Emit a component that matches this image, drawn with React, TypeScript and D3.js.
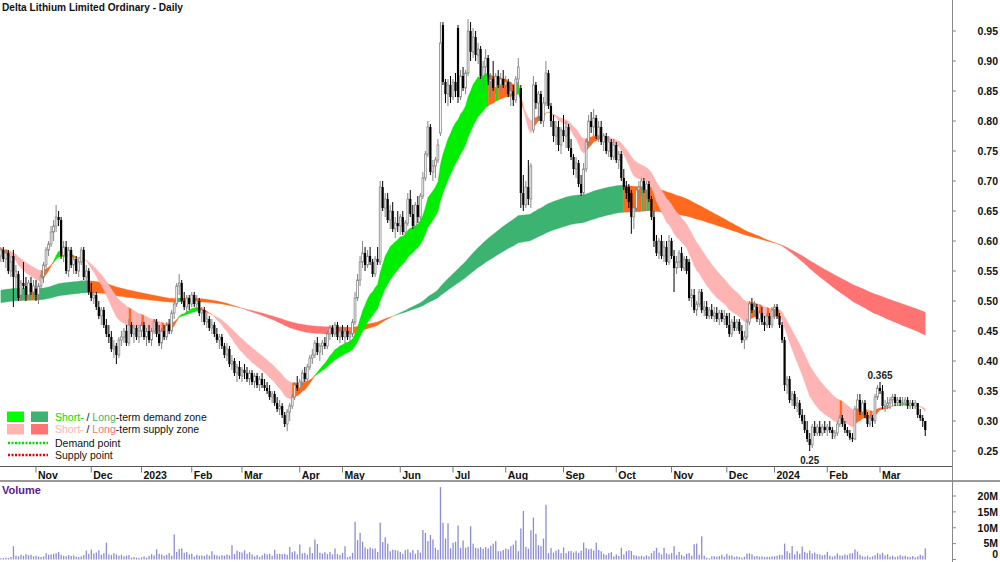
import React from 'react';
import * as d3 from 'd3';

const TITLE = 'Delta Lithium Limited Ordinary - Daily';
const FIRST_SESSION = '2022-10-12';
const HOLIDAYS = ['2022-12-26', '2022-12-27', '2023-01-02', '2023-01-26', '2023-04-07', '2023-04-10', '2023-04-25', '2023-06-12', '2023-12-25', '2023-12-26', '2024-01-01', '2024-01-26'];

// [open, high, low, close]
const CANDLES: number[][] = [
  [.575,.59,.565,.585],[.585,.59,.565,.57],[.57,.585,.555,.58],[.58,.585,.545,.55],[.55,.575,.54,.565],
  [.575,.585,.49,.54],[.54,.56,.52,.55],[.545,.55,.5,.505],[.51,.535,.5,.53],[.53,.565,.52,.525],
  [.525,.54,.5,.51],[.51,.535,.505,.53],[.53,.54,.51,.515],[.515,.535,.505,.525],[.52,.535,.5,.51],
  [.51,.53,.495,.525],[.525,.545,.515,.54],[.54,.565,.53,.56],[.56,.59,.555,.585],[.585,.6,.575,.595],
  [.595,.625,.59,.615],[.615,.635,.6,.625],[.625,.66,.615,.64],[.64,.65,.625,.635],[.635,.64,.57,.575],
  [.575,.6,.565,.59],[.59,.6,.545,.55],[.55,.59,.54,.585],[.585,.59,.555,.56],[.56,.575,.545,.57],
  [.57,.575,.545,.55],[.55,.57,.54,.565],[.565,.59,.56,.585],[.585,.59,.535,.54],[.54,.56,.52,.55],
  [.55,.555,.51,.515],[.515,.53,.5,.505],[.505,.52,.495,.51],[.51,.515,.485,.49],[.49,.5,.47,.475],
  [.475,.49,.46,.485],[.485,.49,.455,.46],[.46,.47,.44,.445],[.445,.46,.43,.44],[.44,.45,.415,.42],
  [.42,.435,.405,.425],[.425,.43,.395,.41],[.41,.44,.405,.435],[.435,.45,.425,.44],[.44,.455,.43,.45],
  [.45,.46,.425,.43],[.43,.47,.425,.46],[.46,.465,.44,.445],[.445,.46,.43,.455],[.455,.46,.435,.44],
  [.44,.46,.43,.45],[.45,.465,.44,.46],[.46,.465,.435,.44],[.44,.455,.425,.45],[.45,.46,.43,.435],
  [.435,.455,.425,.45],[.45,.47,.445,.465],[.465,.47,.44,.445],[.445,.46,.425,.43],[.43,.455,.42,.45],
  [.45,.46,.435,.44],[.44,.465,.435,.46],[.46,.47,.445,.45],[.45,.485,.445,.48],[.48,.5,.47,.495],
  [.495,.53,.49,.525],[.525,.545,.51,.53],[.53,.535,.495,.5],[.5,.515,.485,.49],[.49,.51,.48,.505],
  [.505,.51,.485,.495],[.495,.515,.49,.51],[.51,.515,.49,.495],[.495,.51,.485,.5],[.5,.505,.475,.48],
  [.48,.49,.465,.485],[.485,.49,.46,.465],[.465,.48,.455,.47],[.47,.475,.45,.455],[.455,.47,.445,.46],
  [.46,.465,.44,.445],[.445,.455,.43,.435],[.435,.445,.42,.44],[.44,.445,.42,.425],[.425,.43,.405,.41],
  [.41,.43,.4,.42],[.42,.425,.39,.395],[.395,.41,.385,.4],[.4,.405,.375,.38],[.38,.395,.365,.39],
  [.39,.4,.37,.375],[.375,.39,.365,.385],[.385,.395,.37,.38],[.38,.39,.365,.37],[.37,.385,.36,.38],
  [.38,.385,.36,.365],[.365,.38,.355,.375],[.375,.38,.355,.36],[.36,.375,.35,.37],[.37,.38,.355,.36],
  [.36,.37,.35,.355],[.355,.365,.345,.35],[.35,.36,.335,.34],[.34,.35,.33,.345],[.345,.35,.325,.33],
  [.33,.34,.315,.32],[.32,.335,.31,.325],[.325,.33,.305,.31],[.31,.315,.29,.295],[.295,.32,.283,.315],
  [.315,.33,.3,.325],[.325,.345,.32,.34],[.34,.365,.335,.36],[.36,.375,.35,.355],[.355,.37,.345,.365],
  [.365,.385,.36,.38],[.38,.39,.365,.37],[.37,.395,.365,.39],[.39,.41,.385,.405],[.405,.42,.395,.41],
  [.41,.435,.405,.43],[.43,.44,.41,.415],[.415,.43,.4,.425],[.425,.435,.41,.43],[.43,.44,.42,.425],
  [.425,.45,.42,.445],[.445,.46,.435,.455],[.455,.46,.44,.445],[.445,.465,.44,.46],[.46,.465,.435,.44],
  [.44,.455,.43,.45],[.45,.46,.435,.44],[.44,.455,.43,.45],[.45,.46,.435,.44],[.44,.45,.425,.445],
  [.445,.47,.44,.465],[.465,.515,.46,.505],[.505,.545,.5,.535],[.535,.575,.525,.565],[.565,.6,.555,.58],
  [.58,.59,.55,.56],[.56,.585,.555,.575],[.575,.59,.56,.565],[.565,.57,.54,.545],[.545,.575,.54,.57],
  [.57,.59,.56,.565],[.565,.7,.56,.69],[.69,.7,.65,.655],[.655,.68,.64,.67],[.67,.68,.63,.635],
  [.635,.66,.62,.65],[.65,.665,.615,.62],[.62,.64,.605,.63],[.63,.65,.615,.625],[.625,.645,.61,.64],
  [.64,.65,.61,.615],[.615,.635,.605,.63],[.63,.68,.625,.67],[.67,.685,.64,.645],[.645,.66,.62,.625],
  [.625,.665,.62,.66],[.66,.675,.63,.64],[.64,.68,.635,.675],[.675,.715,.67,.705],[.705,.75,.7,.745],
  [.745,.8,.74,.79],[.79,.795,.71,.715],[.715,.735,.7,.725],[.725,.74,.705,.735],[.735,.77,.73,.76],
  [.78,.965,.775,.93],[.96,.965,.86,.865],[.865,.87,.83,.845],[.845,.87,.825,.86],[.86,.875,.83,.84],
  [.84,.87,.835,.865],[.865,.88,.84,.85],[.955,.96,.83,.84],[.84,.885,.835,.875],[.875,.89,.85,.855],
  [.855,.885,.845,.88],[.88,.97,.875,.95],[.95,.965,.9,.915],[.915,.955,.905,.94],[.94,.95,.9,.91],
  [.91,.93,.895,.92],[.92,.925,.87,.875],[.875,.9,.85,.89],[.89,.92,.875,.905],[.905,.91,.86,.865],
  [.865,.88,.84,.87],[.87,.9,.85,.855],[.855,.88,.845,.875],[.875,.885,.855,.86],[.86,.88,.85,.87],
  [.87,.885,.855,.86],[.86,.875,.845,.865],[.865,.87,.84,.845],[.845,.865,.825,.85],[.85,.86,.825,.835],
  [.835,.875,.83,.87],[.87,.905,.86,.89],[.855,.86,.655,.68],[.68,.71,.65,.66],[.66,.7,.655,.69],
  [.69,.735,.66,.67],[.67,.73,.655,.725],[.785,.875,.78,.86],[.86,.865,.82,.83],[.83,.85,.8,.845],
  [.845,.85,.795,.8],[.8,.84,.79,.83],[.83,.9,.825,.88],[.88,.885,.82,.825],[.825,.83,.79,.8],
  [.8,.81,.765,.775],[.775,.8,.76,.79],[.79,.8,.75,.76],[.76,.79,.745,.785],[.785,.81,.765,.775],
  [.775,.8,.755,.79],[.79,.795,.75,.755],[.755,.77,.735,.74],[.74,.745,.71,.72],[.72,.74,.705,.73],
  [.73,.735,.69,.695],[.695,.71,.675,.68],[.68,.73,.675,.72],[.72,.77,.715,.765],[.765,.81,.76,.8],
  [.8,.815,.78,.79],[.79,.82,.775,.805],[.805,.81,.77,.775],[.775,.8,.765,.79],[.79,.8,.76,.765],
  [.765,.78,.75,.775],[.775,.78,.745,.75],[.75,.775,.74,.765],[.765,.77,.735,.74],[.74,.77,.735,.76],
  [.76,.765,.73,.735],[.735,.75,.72,.745],[.745,.75,.7,.705],[.705,.72,.685,.69],[.69,.7,.67,.68],
  [.69,.695,.655,.665],[.68,.685,.612,.64],[.64,.665,.62,.655],[.655,.69,.65,.685],[.685,.7,.67,.69],
  [.69,.705,.675,.7],[.7,.705,.68,.685],[.685,.7,.67,.695],[.695,.7,.665,.67],[.67,.675,.635,.64],
  [.64,.65,.59,.6],[.6,.61,.575,.58],[.58,.605,.57,.6],[.6,.61,.57,.575],[.575,.6,.565,.59],
  [.59,.6,.56,.565],[.565,.61,.56,.6],[.6,.605,.57,.575],[.575,.585,.515,.555],[.555,.575,.545,.565],
  [.565,.585,.555,.58],[.58,.59,.55,.555],[.555,.575,.55,.57],[.57,.575,.545,.55],[.565,.57,.5,.505],
  [.505,.52,.49,.51],[.51,.52,.48,.485],[.485,.5,.475,.495],[.495,.52,.49,.515],[.515,.52,.48,.485],
  [.485,.5,.475,.49],[.49,.5,.47,.475],[.475,.49,.47,.485],[.485,.495,.47,.475],[.475,.49,.465,.48],
  [.48,.49,.465,.47],[.47,.485,.46,.48],[.48,.485,.465,.47],[.47,.485,.46,.475],[.475,.48,.455,.46],
  [.46,.48,.44,.445],[.445,.47,.44,.465],[.465,.475,.45,.455],[.455,.47,.45,.465],[.465,.47,.445,.45],
  [.45,.46,.43,.435],[.435,.45,.42,.44],[.44,.47,.435,.465],[.465,.5,.46,.495],[.495,.505,.48,.485],
  [.485,.5,.475,.49],[.49,.495,.465,.47],[.47,.485,.46,.48],[.48,.49,.46,.465],[.465,.475,.45,.46],
  [.46,.48,.455,.475],[.475,.48,.455,.46],[.46,.49,.455,.485],[.485,.495,.47,.49],[.49,.495,.47,.475],
  [.475,.48,.455,.46],[.46,.465,.43,.435],[.435,.44,.35,.36],[.36,.375,.345,.37],[.37,.375,.33,.335],
  [.335,.35,.325,.345],[.345,.35,.32,.325],[.325,.34,.315,.33],[.33,.335,.305,.31],[.31,.32,.295,.3],
  [.3,.31,.28,.285],[.285,.3,.265,.27],[.27,.28,.25,.26],[.26,.295,.255,.29],[.29,.3,.275,.28],
  [.28,.295,.275,.29],[.29,.3,.275,.28],[.28,.295,.275,.29],[.29,.3,.28,.285],[.285,.295,.275,.29],
  [.29,.3,.28,.285],[.285,.29,.27,.28],[.275,.285,.27,.28],[.28,.3,.275,.295],[.295,.31,.29,.305],
  [.305,.31,.29,.295],[.295,.3,.28,.285],[.285,.29,.275,.28],[.28,.285,.268,.272],[.272,.28,.265,.27],
  [.27,.325,.268,.32],[.32,.345,.315,.335],[.335,.345,.31,.315],[.315,.335,.31,.33],[.33,.335,.305,.31],
  [.31,.315,.29,.295],[.295,.31,.29,.305],[.305,.31,.29,.3],[.3,.345,.295,.34],[.34,.36,.335,.355],
  [.355,.365,.345,.35],[.35,.36,.32,.325],[.325,.335,.315,.325],[.325,.34,.32,.33],[.33,.34,.32,.335],
  [.335,.345,.325,.34],[.34,.345,.325,.33],[.33,.34,.325,.335],[.335,.34,.325,.33],[.33,.34,.325,.33],
  [.33,.34,.325,.335],[.335,.34,.32,.325],[.325,.335,.32,.33],[.33,.335,.32,.325],[.325,.335,.32,.33],
  [.33,.33,.305,.31],[.31,.32,.3,.305],[.305,.31,.29,.3],[.3,.3,.275,.285]
];

// daily volume, millions of shares
const VOLUME_M: number[] = [
  0.4,0.5,0.6,0.5,0.8,4.2,1.2,1.0,1.5,1.2,1.7,1.3,1.5,1.0,
  1.2,0.9,0.8,1.0,2.0,1.5,1.6,1.8,2.0,2.4,1.5,1.2,1.0,1.4,
  1.1,1.3,0.9,0.8,1.0,1.4,2.8,1.8,3.1,1.9,2.2,2.9,1.5,2.0,
  5.3,1.6,1.4,2.0,1.6,1.2,1.5,1.0,1.2,1.4,0.6,0.8,0.6,0.5,
  0.7,1.0,0.6,1.2,1.7,1.3,3.2,1.8,1.6,1.2,1.5,2.0,1.2,7.9,
  2.4,3.3,3.5,2.1,2.4,1.6,1.8,0.9,1.5,1.2,1.3,1.1,1.6,1.2,
  2.6,1.5,1.3,1.0,1.4,1.2,1.6,1.3,4.5,1.7,2.8,2.4,2.2,2.9,
  1.8,2.3,1.6,1.0,1.4,0.8,1.3,1.9,1.6,1.8,1.2,3.1,1.7,1.8,
  1.7,1.8,1.5,3.9,2.3,2.6,1.6,4.7,1.9,2.1,1.5,3.9,2.0,6.3,
  4.9,2.2,1.9,2.3,1.7,2.4,1.6,3.5,1.7,1.4,2.1,4.2,0.7,1.0,
  2.1,11.9,6.1,8.4,5.6,3.8,3.3,3.8,3.4,3.5,2.4,11.6,5.5,7.0,
  5.0,2.6,3.1,3.0,2.8,2.4,1.8,3.0,3.2,2.2,3.0,1.8,3.0,2.2,
  9.3,8.4,5.8,7.7,6.3,3.7,3.0,22.8,11.6,6.6,11.4,3.5,5.3,5.6,
  10.7,3.7,6.0,3.7,4.0,10.5,5.0,3.7,3.5,3.9,3.4,3.9,3.5,4.3,
  5.0,5.8,2.6,2.6,3.0,3.5,3.2,4.2,4.7,6.0,2.6,9.8,15.3,4.0,
  3.4,9.2,13.2,8.1,4.5,4.2,6.6,17.2,2.0,3.6,2.2,2.8,3.2,2.0,
  3.8,2.0,2.6,2.7,2.2,2.6,2.1,2.8,5.3,3.6,3.2,3.4,2.8,5.3,
  3.0,2.6,1.8,1.4,2.0,2.3,1.0,1.6,1.1,3.7,1.6,2.6,2.9,2.7,
  1.4,1.2,1.0,1.2,0.9,1.3,1.0,2.0,2.7,3.7,2.2,1.6,3.7,1.9,
  1.6,2.0,4.2,1.4,2.4,1.4,1.0,1.8,2.0,1.2,4.8,5.0,1.5,7.3,
  1.2,0.6,0.4,1.0,1.0,0.9,1.1,1.5,0.9,1.8,1.2,1.3,0.8,1.0,
  0.8,0.6,0.9,1.9,1.9,1.6,1.0,1.1,0.9,1.0,0.8,0.9,0.8,1.0,
  1.0,1.2,1.5,1.4,5.0,2.6,2.0,4.2,1.6,2.6,1.8,4.1,2.4,2.0,
  2.8,1.9,2.2,1.7,1.6,1.3,1.5,2.4,1.2,0.9,1.2,1.9,1.3,1.2,
  1.6,1.4,1.9,2.0,3.2,2.5,1.5,1.0,0.9,1.2,0.7,1.0,1.4,2.0,
  1.6,2.1,1.3,1.6,0.9,1.2,0.8,1.0,1.4,1.0,1.2,0.9,0.8,1.1,
  0.7,1.0,1.5,1.2,3.5
];

const PRICE_TICKS = [0.25, 0.3, 0.35, 0.4, 0.45, 0.5, 0.55, 0.6, 0.65, 0.7, 0.75, 0.8, 0.85, 0.9, 0.95];
const VOLUME_TICKS = [0, 5, 10, 15, 20];
const VOLUME_TICK_LABELS = ['0', '5M', '10M', '15M', '20M'];
const MONTH_NAMES = ['Jan', 'Feb', 'Mar', 'Apr', 'May', 'Jun', 'Jul', 'Aug', 'Sep', 'Oct', 'Nov', 'Dec'];

// EMA periods of the short- and long-term zones, and their values at the first bar
const SHORT_PERIODS = [15, 30];
const LONG_PERIODS = [150, 225];
const SHORT_START = [0.58, 0.588];
const LONG_START = [0.518, 0.497];

const FONT = '"Liberation Sans", Arial, Helvetica, sans-serif';

const COLORS = {
  shortDemand: '#00ee00',
  longDemand: '#3cb371',
  shortSupply: '#ffb4b4',
  longSupply: '#ff7373',
  neutral: '#ff6a1f',
};

function tradingDays(start: string, count: number): Date[] {
  const hol = new Set(HOLIDAYS);
  const out: Date[] = [];
  let t = Date.parse(start + 'T00:00:00Z');
  while (out.length < count) {
    const d = new Date(t);
    const dow = d.getUTCDay();
    const key = d.toISOString().slice(0, 10);
    if (dow !== 0 && dow !== 6 && !hol.has(key)) out.push(d);
    t += 86400000;
  }
  return out;
}

function ema(values: number[], period: number, seed: number): number[] {
  const a = 2 / (period + 1);
  let e = seed;
  return values.map((v, i) => {
    if (i > 0) e = e + a * (v - e);
    return e;
  });
}

type Run = { state: string; start: number; end: number };

function zoneRuns(fast: number[], slow: number[], closes: number[]): Run[] {
  const states = fast.map((f, i) => {
    const rising = i === 0 ? closes[0] >= f : f >= fast[i - 1];
    const above = f >= slow[i];
    return above ? (rising ? 'demand' : 'neutral') : rising ? 'neutral' : 'supply';
  });
  const runs: Run[] = [];
  states.forEach((s, i) => {
    const last = runs[runs.length - 1];
    if (last && last.state === s) last.end = i;
    else runs.push({ state: s, start: i, end: i });
  });
  return runs;
}

export default function App() {
  const W = 1000;
  const H = 562;
  const n = CANDLES.length;
  const dates = tradingDays(FIRST_SESSION, n);
  const closes = CANDLES.map((c) => c[3]);

  const x = d3.scaleLinear().domain([0, n - 1]).range([0.83, 0.83 + 2.512 * (n - 1)]);
  const yP = d3.scaleLinear().domain([0.25, 0.95]).range([451, 31]);
  const yV = d3.scaleLinear().domain([0, 20]).range([559.5, 496]);

  const axisX = 952.5;
  const panelBottom = 466.5;

  const sFast = ema(closes, SHORT_PERIODS[0], SHORT_START[0]);
  const sSlow = ema(closes, SHORT_PERIODS[1], SHORT_START[1]);
  const lFast = ema(closes, LONG_PERIODS[0], LONG_START[0]);
  const lSlow = ema(closes, LONG_PERIODS[1], LONG_START[1]);

  const bandPaths = (fast: number[], slow: number[], palette: Record<string, string>) => {
    const area = d3
      .area<number>()
      .x((i) => x(i))
      .y0((i) => yP(Math.min(fast[i], slow[i])))
      .y1((i) => yP(Math.max(fast[i], slow[i])));
    return zoneRuns(fast, slow, closes).map((r) => {
      const idx = d3.range(r.start, Math.min(r.end + 1, n - 1) + 1);
      return { d: area(idx) || '', fill: palette[r.state], key: r.start };
    });
  };

  const longBands = bandPaths(lFast, lSlow, { demand: COLORS.longDemand, supply: COLORS.longSupply, neutral: COLORS.neutral });
  const shortBands = bandPaths(sFast, sSlow, { demand: COLORS.shortDemand, supply: COLORS.shortSupply, neutral: COLORS.neutral });

  const monthTicks: { i: number; label: string }[] = [];
  for (let i = 1; i < n; i++) {
    if (dates[i].getUTCMonth() !== dates[i - 1].getUTCMonth()) {
      const m = dates[i].getUTCMonth();
      monthTicks.push({ i, label: m === 0 ? String(dates[i].getUTCFullYear()) : MONTH_NAMES[m] });
    }
  }

  // recent low and the high after it
  const recentFrom = n - 80;
  let lowIdx = recentFrom;
  for (let i = recentFrom; i < n; i++) if (CANDLES[i][2] < CANDLES[lowIdx][2]) lowIdx = i;
  let highIdx = lowIdx;
  for (let i = lowIdx; i < n; i++) if (CANDLES[i][1] > CANDLES[highIdx][1]) highIdx = i;
  const fmt = (v: number) => String(+v.toFixed(3));

  return (
    <svg width={W} height={H} style={{ position: 'absolute', left: 0, top: 0, display: 'block', background: '#fff' }} fontFamily={FONT}>
      <defs>
        <clipPath id="pricePanel">
          <rect x={0} y={0} width={axisX} height={panelBottom} />
        </clipPath>
      </defs>
      <rect x={0} y={0} width={W} height={H} fill="#fff" />

      <g clipPath="url(#pricePanel)">
        {longBands.map((b) => (
          <path key={'l' + b.key} d={b.d} fill={b.fill} stroke={b.fill} strokeWidth={0.3} />
        ))}
        {shortBands.map((b) => (
          <path key={'s' + b.key} d={b.d} fill={b.fill} stroke={b.fill} strokeWidth={0.3} />
        ))}
        {CANDLES.map(([o, h, l, c], i) => {
          const cx = x(i);
          const up = c >= o;
          const top = yP(Math.max(o, c));
          const bot = yP(Math.min(o, c));
          const col = up ? '#858585' : '#000';
          return (
            <g key={i}>
              <line x1={cx} x2={cx} y1={yP(h)} y2={yP(l)} stroke={col} strokeWidth={1} />
              {up ? (
                <rect x={cx - 0.9} y={top} width={1.8} height={Math.max(0.8, bot - top)} fill="#fff" stroke={col} strokeWidth={0.8} />
              ) : (
                <rect x={cx - 1.1} y={top} width={2.2} height={Math.max(1, bot - top)} fill="#000" />
              )}
            </g>
          );
        })}
      </g>

      {/* annotations */}
      <text x={x(highIdx)} y={yP(CANDLES[highIdx][1]) - 3} textAnchor="middle" fontSize={11} fontWeight="bold" fill="#222" textLength={25} lengthAdjust="spacingAndGlyphs">
        {fmt(CANDLES[highIdx][1])}
      </text>
      <text x={x(lowIdx)} y={yP(CANDLES[lowIdx][2]) + 12.5} textAnchor="middle" fontSize={11} fontWeight="bold" fill="#222" textLength={19} lengthAdjust="spacingAndGlyphs">
        {fmt(CANDLES[lowIdx][2])}
      </text>

      {/* title */}
      <text x={2} y={11} fontSize={11} fontWeight="bold" fill="#111" textLength={181} lengthAdjust="spacingAndGlyphs">
        {TITLE}
      </text>

      {/* legend */}
      <g fontSize={10.5}>
        <rect x={7} y={411.5} width={17} height={10.5} fill="#00ff00" />
        <rect x={31} y={411.5} width={17} height={10.5} fill={COLORS.longDemand} />
        <text x={55} y={420.5} fill="#111">
          <tspan fill="#00dd00">Short-</tspan>
          <tspan> / </tspan>
          <tspan fill={COLORS.longDemand}>Long</tspan>
          <tspan>-term demand zone</tspan>
        </text>
        <rect x={7} y={424} width={17} height={10.5} fill={COLORS.shortSupply} />
        <rect x={31} y={424} width={17} height={10.5} fill={COLORS.longSupply} />
        <text x={55} y={433} fill="#111">
          <tspan fill={COLORS.shortSupply}>Short-</tspan>
          <tspan> / </tspan>
          <tspan fill={COLORS.longSupply}>Long</tspan>
          <tspan>-term supply zone</tspan>
        </text>
        <line x1={8} x2={48} y1={443} y2={443} stroke="#00dd00" strokeWidth={2.5} strokeDasharray="2,1.5" />
        <text x={55} y={447} fill="#111">Demand point</text>
        <line x1={8} x2={48} y1={455} y2={455} stroke="#ee0000" strokeWidth={2.5} strokeDasharray="2,1.5" />
        <text x={55} y={459} fill="#111">Supply point</text>
      </g>

      {/* x axis */}
      <line x1={0} x2={axisX} y1={panelBottom} y2={panelBottom} stroke="#555" strokeWidth={1} />
      {monthTicks.map((t) => (
        <g key={t.i}>
          <line x1={x(t.i)} x2={x(t.i)} y1={panelBottom} y2={472.5} stroke="#777" strokeWidth={1} />
          <text x={x(t.i) + 2} y={478.5} fontSize={10.5} fontWeight="bold" fill="#111">
            {t.label}
          </text>
        </g>
      ))}
      <line x1={0} x2={W} y1={481} y2={481} stroke="#999" strokeWidth={2} />

      {/* right axis */}
      <line x1={axisX} x2={axisX} y1={0} y2={H} stroke="#888" strokeWidth={1} />
      {PRICE_TICKS.map((v) => (
        <g key={v}>
          <line x1={axisX} x2={axisX + 3.5} y1={yP(v)} y2={yP(v)} stroke="#888" />
          <text x={998} y={yP(v)} dy="0.36em" textAnchor="end" fontSize={10.5} fontWeight="bold" fill="#111">
            {v.toFixed(2)}
          </text>
        </g>
      ))}

      {/* volume */}
      <text x={2} y={494} fontSize={11} fontWeight="bold" fill="#5a1a8c">Volume</text>
      {VOLUME_M.map((v, i) => (
        <rect key={i} x={x(i) - 0.6} y={yV(v)} width={1.3} height={yV(0) - yV(v)} fill="#8c8cd6" />
      ))}
      {VOLUME_TICKS.map((v, k) => (
        <g key={v}>
          <line x1={axisX} x2={axisX + 3.5} y1={yV(v)} y2={yV(v)} stroke="#888" />
          <text x={998} y={Math.min(yV(v), 554)} dy="0.36em" textAnchor="end" fontSize={10.5} fontWeight="bold" fill="#111">
            {VOLUME_TICK_LABELS[k]}
          </text>
        </g>
      ))}
    </svg>
  );
}
